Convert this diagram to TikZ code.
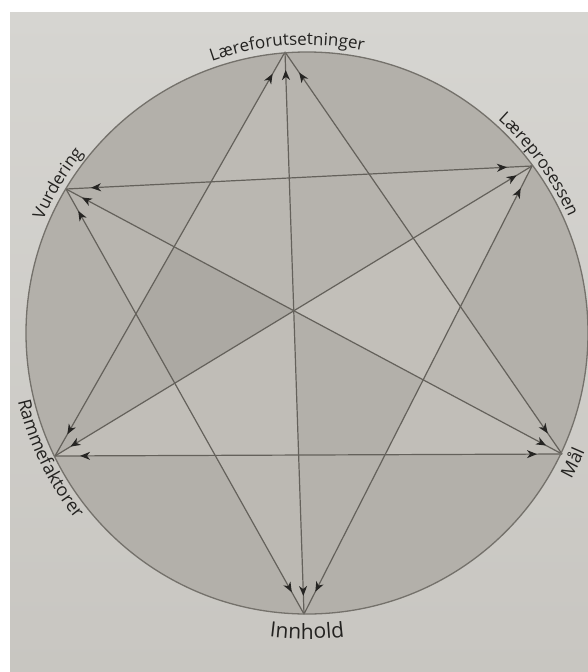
\documentclass[tikz,border=0pt]{standalone}
\usepackage{fontspec}
\newfontfamily\labelfont{Open Sans}
\usetikzlibrary{arrows.meta,decorations.markings,decorations.text}
\definecolor{paperA}{HTML}{D6D5D1}
\definecolor{paperB}{HTML}{C8C6C1}
\definecolor{circfill}{HTML}{B3B0AA}
\definecolor{linec}{HTML}{64615B}
\definecolor{arrowc}{HTML}{262523}
\definecolor{textc}{HTML}{232220}
\newcommand\lblsmall{\labelfont\fontsize{17pt}{17pt}\selectfont\color{textc}}
\newcommand\lblmid{\labelfont\fontsize{18pt}{18pt}\selectfont\color{textc}}
\newcommand\lblbig{\labelfont\fontsize{21pt}{21pt}\selectfont\color{textc}}
\tikzset{
  tipshape/.style={},
  conn/.style={draw=linec, line width=1.2pt},
  diamline/.style={conn, postaction={decorate}, decoration={markings,
      mark=at position 18pt with {\arrowreversed{Stealth[length=10pt,width=8pt,inset=3pt,color=arrowc]}},
      mark=at position -18pt with {\arrow{Stealth[length=10pt,width=8pt,inset=3pt,color=arrowc]}}}},
  edgeline/.style={conn, postaction={decorate}, decoration={markings,
      mark=at position 25pt with {\arrowreversed{Stealth[length=10pt,width=8pt,inset=3pt,color=arrowc]}},
      mark=at position -25pt with {\arrow{Stealth[length=10pt,width=8pt,inset=3pt,color=arrowc]}}}},
  circline/.style={draw=linec!90, line width=1.3pt},
  arclabel/.style={decorate, decoration={text along path, text align=center, text={#1}}}
}
\begin{document}
\begin{tikzpicture}[x=1pt,y=1pt]
\useasboundingbox (0,0) rectangle (588,-672);
\clip (0,0) rectangle (588,-672);
\fill[white] (0,0) rectangle (588,-672);
\shade[top color=paperA, bottom color=paperB] (10,-12) rectangle (588,-672);
\coordinate (C) at (307,-333);
\fill[circfill] (C) circle[radius=281];
% points on the circle
\coordinate (L) at (285,-52);
\coordinate (P) at (532,-166);
\coordinate (M) at (562,-454);
\coordinate (I) at (304,-614);
\coordinate (R) at (55,-456);
\coordinate (V) at (66,-189);
% intersections
\coordinate (A1) at (intersection of L--R and V--P);
\coordinate (A2) at (intersection of L--M and V--P);
\coordinate (A3) at (intersection of L--M and P--I);
\coordinate (A4) at (intersection of M--R and P--I);
\coordinate (A5) at (intersection of M--R and I--V);
\coordinate (A6) at (intersection of L--R and I--V);
\coordinate (O) at (intersection of L--I and V--M);
\coordinate (B1) at (intersection of L--I and V--P);
\coordinate (B2) at (intersection of L--I and M--R);
\coordinate (B3) at (intersection of V--M and L--R);
\coordinate (B4) at (intersection of V--M and P--I);
\coordinate (B5) at (intersection of P--R and L--M);
\coordinate (B6) at (intersection of P--R and I--V);
% region shading
\fill[fill={rgb,255:red,189;green,186;blue,180}] (L) -- (A1) -- (B1) -- cycle;
\fill[fill={rgb,255:red,183;green,180;blue,174}] (L) -- (B1) -- (A2) -- cycle;
\fill[fill={rgb,255:red,185;green,182;blue,176}] (P) -- (A2) -- (B5) -- cycle;
\fill[fill={rgb,255:red,190;green,187;blue,181}] (P) -- (B5) -- (A3) -- cycle;
\fill[fill={rgb,255:red,187;green,184;blue,178}] (M) -- (A3) -- (B4) -- cycle;
\fill[fill={rgb,255:red,193;green,190;blue,184}] (M) -- (B4) -- (A4) -- cycle;
\fill[fill={rgb,255:red,181;green,178;blue,172}] (I) -- (A4) -- (B2) -- cycle;
\fill[fill={rgb,255:red,188;green,185;blue,179}] (I) -- (B2) -- (A5) -- cycle;
\fill[fill={rgb,255:red,193;green,190;blue,184}] (R) -- (A5) -- (B6) -- cycle;
\fill[fill={rgb,255:red,178;green,175;blue,169}] (R) -- (B6) -- (A6) -- cycle;
\fill[fill={rgb,255:red,184;green,181;blue,175}] (V) -- (A6) -- (B3) -- cycle;
\fill[fill={rgb,255:red,180;green,177;blue,171}] (V) -- (B3) -- (A1) -- cycle;
\fill[fill={rgb,255:red,186;green,183;blue,177}] (O) -- (B3) -- (A1) -- (B1) -- cycle;
\fill[fill={rgb,255:red,182;green,179;blue,173}] (O) -- (B1) -- (A2) -- (B5) -- cycle;
\fill[fill={rgb,255:red,194;green,191;blue,185}] (O) -- (B5) -- (A3) -- (B4) -- cycle;
\fill[fill={rgb,255:red,179;green,176;blue,170}] (O) -- (B4) -- (A4) -- (B2) -- cycle;
\fill[fill={rgb,255:red,192;green,189;blue,183}] (O) -- (B2) -- (A5) -- (B6) -- cycle;
\fill[fill={rgb,255:red,172;green,169;blue,163}] (O) -- (B6) -- (A6) -- (B3) -- cycle;
% connectors
\draw[diamline] (L) -- (I);
\draw[diamline] (V) -- (M);
\draw[diamline] (P) -- (R);
\draw[edgeline] (L) -- (M);
\draw[edgeline] (M) -- (R);
\draw[edgeline] (R) -- (L);
\draw[edgeline] (V) -- (P);
\draw[edgeline] (P) -- (I);
\draw[edgeline] (I) -- (V);
\draw[circline] (C) circle[radius=281];
% labels
\path[arclabel={|\lblsmall|Læreforutsetninger}] (C) ++(124:288) arc[start angle=124, end angle=64, radius=288];
\path[arclabel={|\lblsmall|Læreprosessen}] (C) ++(66:286) arc[start angle=66, end angle=6, radius=286];
\path[arclabel={|\lblsmall|Vurdering}] (C) ++(179:287) arc[start angle=179, end angle=119, radius=287];
\path[arclabel={|\lblmid|Rammefaktorer}] (C) ++(176:297) arc[start angle=176, end angle=236, radius=297];
\path[arclabel={|\lblbig|Innhold}] (C) ++(-120:306) arc[start angle=-120, end angle=-60, radius=306];
\path[arclabel={|\lblmid|Mål}] (C) ++(-56:302) arc[start angle=-56, end angle=4, radius=302];
\end{tikzpicture}
\end{document}
